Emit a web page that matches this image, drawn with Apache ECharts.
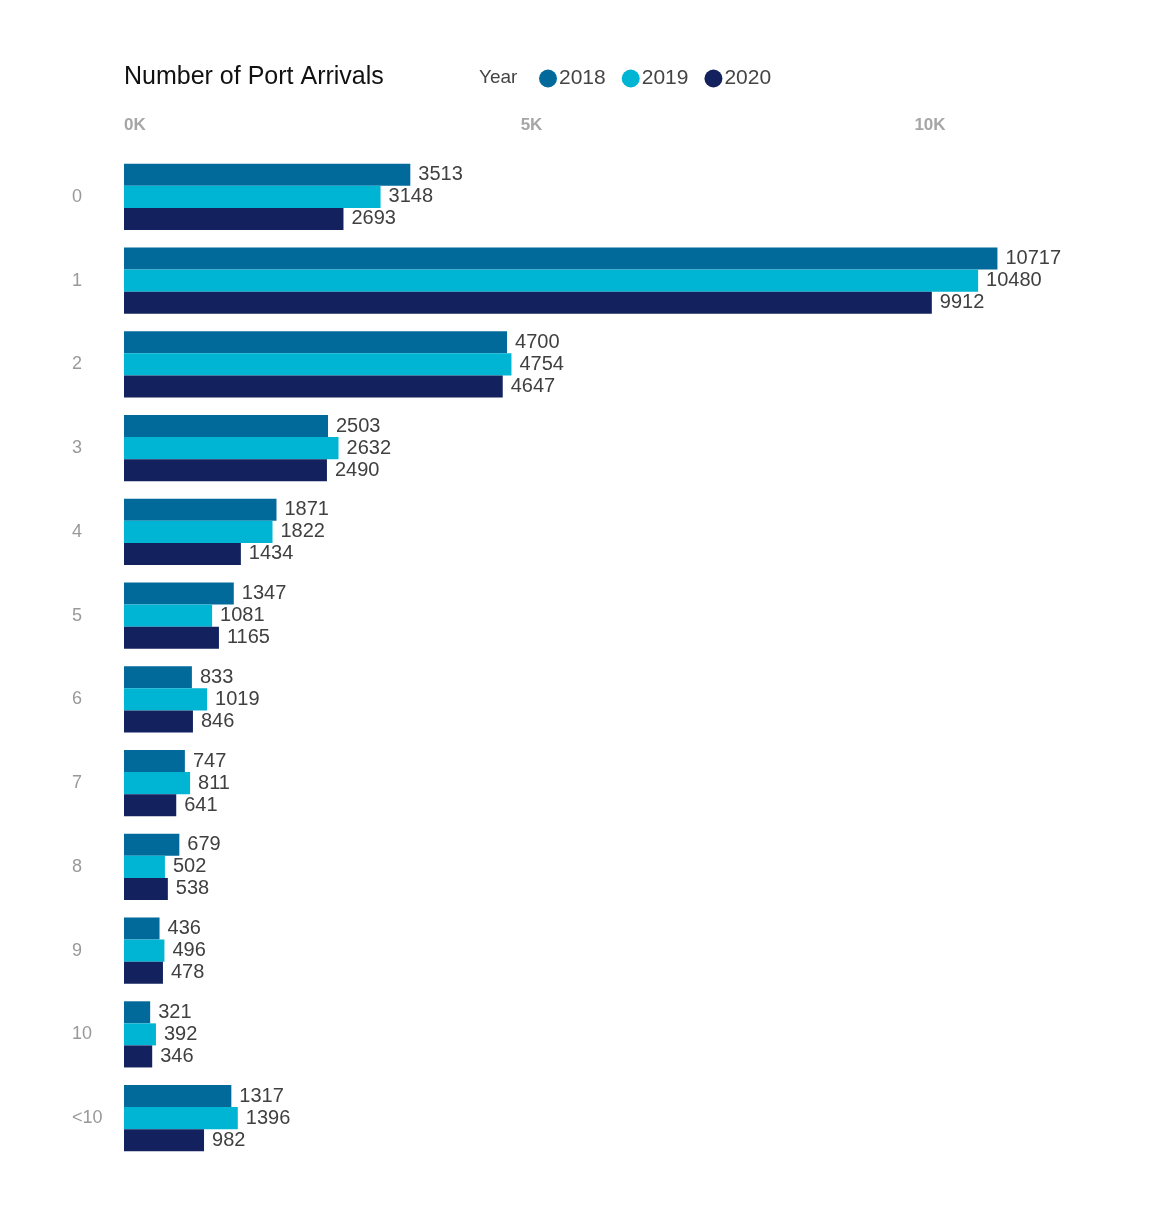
<!DOCTYPE html>
<html><head><meta charset="utf-8">
<script src="https://cdn.jsdelivr.net/npm/echarts@6/dist/echarts.min.js"></script>
<style>html,body{margin:0;padding:0;background:#fff}#c{width:1170px;height:1223px}</style>
</head><body><div id="c"></div>
<script>
const categories = ['0','1','2','3','4','5','6','7','8','9','10','<10'];
const years = ['2018','2019','2020'];
const v2018 = [3513,10717,4700,2503,1871,1347,833,747,679,436,321,1317];
const v2019 = [3148,10480,4754,2632,1822,1081,1019,811,502,496,392,1396];
const v2020 = [2693,9912,4647,2490,1434,1165,846,641,538,478,346,982];
const tickValues = [0,5000,10000];
const colors = ['#016A9B','#00B5D3','#13225E'];
const FONT = '"Liberation Sans", Arial, sans-serif';

const chart = echarts.init(document.getElementById('c'));
const mk = (name, data, i) => ({
  name, type:'bar', data,
  itemStyle:{color:colors[i]},
  barGap:'0%', barCategoryGap:'21%',
  label:{show:true, position:'right', distance:8, color:'#404040', fontSize:20, fontFamily:FONT},
  emphasis:{disabled:true}
});
chart.setOption({
  animation:false,
  textStyle:{fontFamily:FONT},
  title:{text:'Number of Port Arrivals', left:119, top:60, textStyle:{fontSize:25, fontWeight:'normal', color:'#111', fontFamily:FONT}},
  graphic:[{type:'text', left:479, top:68, style:{text:'Year', fontSize:19, fill:'#444', fontFamily:FONT}}],
  legend:{left:534, top:63, icon:'circle', itemWidth:18, itemHeight:18, itemGap:16,
    textStyle:{fontSize:21, color:'#444', fontFamily:FONT, padding:[0,0,0,-3]}, data:years},
  grid:{left:124, width:978, top:155, bottom:63, containLabel:false},
  xAxis:{type:'value', position:'top', min:0, max:12000, interval:5000,
    axisLine:{show:false}, axisTick:{show:false}, splitLine:{show:false},
    axisLabel:{show:true, margin:21, color:'#a6a6a6', fontSize:17, fontWeight:'bold', fontFamily:FONT,
      alignMinLabel:'left',
      rich:{s:{color:'#a6a6a6', fontSize:17, fontWeight:'bold', fontFamily:FONT, padding:[0,18,0,0]}},
      formatter:v => {
        if (!tickValues.includes(v)) return '';
        const t = (v/1000)+'K';
        return v === 10000 ? '{s|'+t+'}' : t;
      }}},
  yAxis:{type:'category', data:categories, inverse:true,
    axisLine:{show:false}, axisTick:{show:false},
    axisLabel:{margin:52, align:'left', color:'#999', fontSize:18, fontFamily:FONT}},
  series:[mk(years[0],v2018,0), mk(years[1],v2019,1), mk(years[2],v2020,2)]
});
</script></body></html>
